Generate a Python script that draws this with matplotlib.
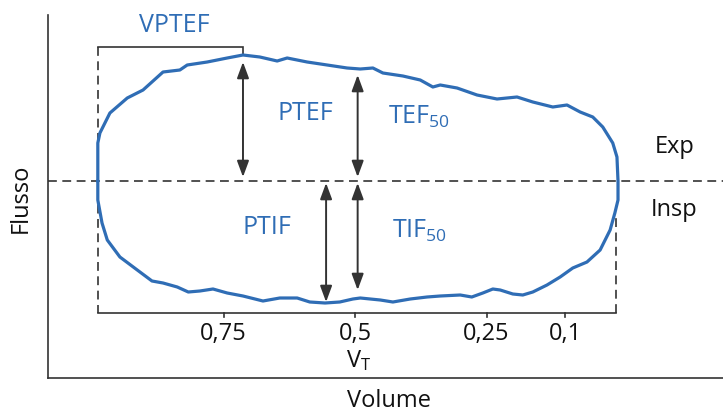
import matplotlib
matplotlib.use("agg")
import matplotlib.pyplot as plt

plt.rcParams['font.family'] = ['Open Sans', 'DejaVu Sans']
plt.rcParams['mathtext.fontset'] = 'custom'
plt.rcParams['mathtext.rm'] = 'Open Sans'
plt.rcParams['mathtext.it'] = 'Open Sans'

BLUE = '#2f6db5'
DARK = '#333333'
INK = '#111111'

# volume as fraction of VT (1 = start of expiration), flow in arbitrary units
exp_volume = [0.989, 0.989, 0.985, 0.966, 0.933, 0.903, 0.865, 0.833, 0.819,
              0.781, 0.743, 0.713, 0.681, 0.648, 0.629, 0.591, 0.553, 0.515,
              0.490, 0.466, 0.447, 0.409, 0.376, 0.352, 0.338, 0.306, 0.268,
              0.230, 0.192, 0.162, 0.124, 0.097, 0.072, 0.048, 0.029, 0.010,
              0.002, 0.0]
exp_flow = [0.0, 0.38, 0.48, 0.68, 0.83, 0.91, 1.09, 1.11, 1.16,
            1.19, 1.23, 1.26, 1.24, 1.20, 1.23, 1.19, 1.16, 1.13,
            1.12, 1.13, 1.08, 1.05, 1.01, 0.94, 0.96, 0.93, 0.86,
            0.82, 0.84, 0.79, 0.74, 0.76, 0.69, 0.64, 0.54, 0.38,
            0.24, 0.0]

insp_volume = [0.0, 0.0, 0.006, 0.015, 0.034, 0.059, 0.086, 0.110, 0.135,
               0.162, 0.181, 0.200, 0.224, 0.238, 0.257, 0.278, 0.300, 0.338,
               0.363, 0.395, 0.428, 0.452, 0.490, 0.504, 0.529, 0.557, 0.586,
               0.610, 0.643, 0.675, 0.713, 0.743, 0.770, 0.795, 0.817, 0.838,
               0.865, 0.886, 0.914, 0.947, 0.971, 0.981, 0.989, 0.989]
insp_flow = [0.0, -0.19, -0.32, -0.49, -0.69, -0.81, -0.87, -0.96, -1.04,
             -1.11, -1.14, -1.13, -1.09, -1.08, -1.12, -1.16, -1.14, -1.15,
             -1.16, -1.18, -1.21, -1.19, -1.17, -1.18, -1.21, -1.22, -1.21,
             -1.17, -1.17, -1.20, -1.15, -1.12, -1.08, -1.10, -1.11, -1.06,
             -1.02, -1.00, -0.89, -0.76, -0.59, -0.42, -0.19, 0.0]

tick_values = [0.75, 0.5, 0.25, 0.1]
tick_labels = ['0,75', '0,5', '0,25', '0,1']

# measured points: name -> (volume, flow reached by the arrow)
markers = {
    'PTEF': (0.713, 1.19),
    'TEF50': (0.495, 1.06),
    'PTIF': (0.555, -1.21),
    'TIF50': (0.495, -1.09),
}
peak_volume = 0.713
peak_flow = 1.26

# frame round the loop
box_left, box_right = 0.989, 0.004
box_top, box_bottom = 1.34, -1.32
box_right_top = -0.32

fig = plt.figure(figsize=(7.23, 4.12), dpi=100)
ax = fig.add_axes([48 / 723, 34 / 412, 675 / 723, 363 / 412])
ax.set_xlim(1.0837, -0.1996)
ax.set_ylim(-1.97, 1.66)
for side in ['top', 'right']:
    ax.spines[side].set_visible(False)
for side in ['left', 'bottom']:
    ax.spines[side].set_color(DARK)
    ax.spines[side].set_linewidth(1.2)
ax.set_xticks([])
ax.set_yticks([])

dash = (0, (5.3, 3.3))
ax.axhline(0, color=DARK, lw=1.2, ls=dash, zorder=1)

# VPTEF bracket and dashed frame
ax.plot([box_left, peak_volume, peak_volume], [box_top, box_top, peak_flow],
        color=DARK, lw=1.2, solid_joinstyle='miter')
ax.plot([box_left, box_left], [box_top, box_bottom], color=DARK, lw=1.2, ls=dash)
ax.plot([box_left, box_right], [box_bottom, box_bottom], color=DARK, lw=1.2)
ax.plot([box_right, box_right], [box_bottom, box_right_top], color=DARK,
        lw=1.2, ls=dash)

for v in tick_values:
    ax.plot([v, v], [box_bottom, box_bottom - 0.04], color=DARK, lw=1.2)
for v, lab in zip(tick_values, tick_labels):
    ax.text(v, -1.53, lab, ha='center', va='center', fontsize=17, color=INK)

# the loop
ax.plot(exp_volume + insp_volume, exp_flow + insp_flow, color=BLUE, lw=2.3,
        solid_joinstyle='round', solid_capstyle='round', zorder=3)

for name, (v, f) in markers.items():
    start = 0.04 if f > 0 else -0.02
    ax.annotate('', xy=(v, f), xytext=(v, start),
                arrowprops=dict(arrowstyle='<|-|>,head_length=0.65,head_width=0.24',
                                mutation_scale=15, color=DARK, lw=1.4,
                                shrinkA=0, shrinkB=0))

ax.text(0.844, 1.56, 'VPTEF', ha='center', va='center', fontsize=18, color=BLUE)
ax.text(0.595, 0.67, 'PTEF', ha='center', va='center', fontsize=18, color=BLUE)
ax.text(0.378, 0.64, r'TEF$_{\mathrm{50}}$', ha='center', va='center',
        fontsize=18, color=BLUE)
ax.text(0.667, -0.47, 'PTIF', ha='center', va='center', fontsize=18, color=BLUE)
ax.text(0.377, -0.50, r'TIF$_{\mathrm{50}}$', ha='center', va='center',
        fontsize=18, color=BLUE)

ax.text(-0.108, 0.34, 'Exp', ha='center', va='center', fontsize=17, color=INK)
ax.text(-0.106, -0.29, 'Insp', ha='center', va='center', fontsize=17, color=INK)
ax.text(0.494, -1.80, r'V$_{\mathrm{T}}$', ha='center', va='center', fontsize=17,
        color=INK, clip_on=False)
ax.text(0.435, -2.20, 'Volume', ha='center', va='center', fontsize=17,
        color=INK, clip_on=False)
ax.text(1.135, -0.17, 'Flusso', ha='center', va='center', rotation=90,
        fontsize=17, color=INK, clip_on=False)

fig.savefig("out.png", dpi=100)
